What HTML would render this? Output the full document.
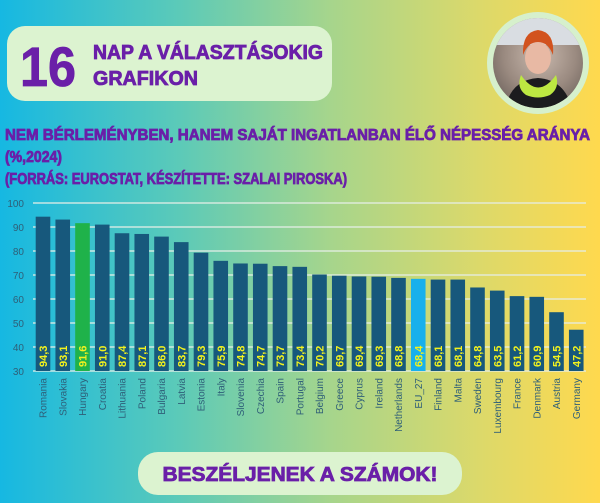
<!DOCTYPE html>
<html><head><meta charset="utf-8"><style>
html,body{margin:0;padding:0;width:600px;height:503px;overflow:hidden}
svg{display:block}
text{font-family:"Liberation Sans",sans-serif}
.h{stroke:#6a1fa8;stroke-width:0.8;paint-order:stroke}
</style></head><body>
<svg width="600" height="503" viewBox="0 0 600 503" xmlns="http://www.w3.org/2000/svg">
<defs>
<linearGradient id="bg" x1="0" y1="0" x2="1" y2="0">
<stop offset="0" stop-color="#16b8e2"/>
<stop offset="0.3" stop-color="#5ccab8"/>
<stop offset="0.55" stop-color="#a6d58c"/>
<stop offset="0.8" stop-color="#dcd96a"/>
<stop offset="1" stop-color="#ffd94e"/>
</linearGradient>
<radialGradient id="ph" cx="0.5" cy="0.4" r="0.6">
<stop offset="0" stop-color="#c9b9ae"/>
<stop offset="0.6" stop-color="#9a8a80"/>
<stop offset="1" stop-color="#6d625c"/>
</radialGradient>
<clipPath id="cc"><circle cx="538" cy="63" r="45"/></clipPath>
</defs>
<rect width="600" height="503" fill="url(#bg)"/>
<rect x="7" y="26" width="325" height="75" rx="18" fill="#dcf3d0"/>
<text class="h" x="20" y="86" font-size="56" font-weight="900" fill="#6a1fa8" stroke-width="3" textLength="56" lengthAdjust="spacingAndGlyphs">16</text>
<text class="h" x="93" y="59" font-size="20" font-weight="bold" fill="#6a1fa8" textLength="230" lengthAdjust="spacingAndGlyphs">NAP A VÁLASZTÁSOKIG</text>
<text class="h" x="93" y="85" font-size="20" font-weight="bold" fill="#6a1fa8" textLength="105" lengthAdjust="spacingAndGlyphs">GRAFIKON</text>
<circle cx="538" cy="63" r="51" fill="#d6f0cc"/>
<g clip-path="url(#cc)">
<rect x="490" y="15" width="100" height="100" fill="url(#ph)"/>
<rect x="490" y="15" width="100" height="30" fill="#d9dde2"/>
<path d="M505 110 Q510 80 538 78 Q566 80 572 110 Z" fill="#1c1c1e"/>
<path d="M521 75 Q538 100 556 75 Q560 88 550 95 Q538 100 526 95 Q516 88 521 75 Z" fill="#bde842"/>
<ellipse cx="538" cy="58" rx="13" ry="16" fill="#e8b9a4"/>
<path d="M523 55 Q522 32 538 30 Q555 32 553 55 Q548 42 538 42 Q528 42 523 55 Z" fill="#d2521e"/>
</g>
<text class="h" x="5" y="140" font-size="15.5" font-weight="bold" fill="#6a1fa8" textLength="585" lengthAdjust="spacingAndGlyphs">NEM BÉRLEMÉNYBEN, HANEM SAJÁT INGATLANBAN ÉLŐ NÉPESSÉG ARÁNYA</text>
<text class="h" x="5" y="162" font-size="15.5" font-weight="bold" fill="#6a1fa8" textLength="57" lengthAdjust="spacingAndGlyphs">(%,2024)</text>
<text class="h" x="5" y="184" font-size="15.5" font-weight="bold" fill="#6a1fa8" textLength="342" lengthAdjust="spacingAndGlyphs">(FORRÁS: EUROSTAT, KÉSZÍTETTE: SZALAI PIROSKA)</text>
<g id="chart"></g>
<rect x="138" y="452" width="324" height="43" rx="20" fill="#dcf3d0"/>
<text class="h" x="300" y="481" text-anchor="middle" font-size="20" font-weight="900" fill="#6a1fa8" textLength="275" lengthAdjust="spacingAndGlyphs">BESZÉLJENEK A SZÁMOK!</text>
</svg>
<script>
const d=[["Romania",94.3],["Slovakia",93.1],["Hungary",91.6],["Croatia",91.0],["Lithuania",87.4],["Poland",87.1],["Bulgaria",86.0],["Latvia",83.7],["Estonia",79.3],["Italy",75.9],["Slovenia",74.8],["Czechia",74.7],["Spain",73.7],["Portugal",73.4],["Belgium",70.2],["Greece",69.7],["Cyprus",69.4],["Ireland",69.3],["Netherlands",68.8],["EU_27",68.4],["Finland",68.1],["Malta",68.1],["Sweden",64.8],["Luxembourg",63.5],["France",61.2],["Denmark",60.9],["Austria",54.5],["Germany",47.2]];
const ns="http://www.w3.org/2000/svg",g=document.getElementById("chart");
function el(t,a,txt){const e=document.createElementNS(ns,t);for(const k in a)e.setAttribute(k,a[k]);if(txt)e.textContent=txt;g.appendChild(e);return e;}
const Y=v=>371-(v-30)*2.4;
for(let v=30;v<=100;v+=10){el("line",{x1:33,x2:586,y1:Y(v),y2:Y(v),stroke:"#e6efe8","stroke-width":1.5,opacity:0.85});
el("text",{x:24,y:Y(v)+4,"font-size":10,"text-anchor":"end",fill:"#2f5f78"},String(v));}
d.forEach((r,i)=>{const cx=43+i*19.75;const c=r[0]=="Hungary"?"#1fb24a":r[0]=="EU_27"?"#18b0ec":"#17587c";
el("rect",{x:cx-7.3,y:Y(r[1]),width:14.6,height:371-Y(r[1]),fill:c});
el("text",{x:0,y:0,transform:`translate(${cx+4},367) rotate(-90)`,"font-size":11,"font-weight":"bold",fill:"#f2f21e"},r[1].toFixed(1).replace(".",","));
el("text",{x:0,y:0,transform:`translate(${cx+3.5},378) rotate(-90)`,"font-size":10,"text-anchor":"end",fill:"#2f5f78"},r[0]);});
</script>
</body></html>
